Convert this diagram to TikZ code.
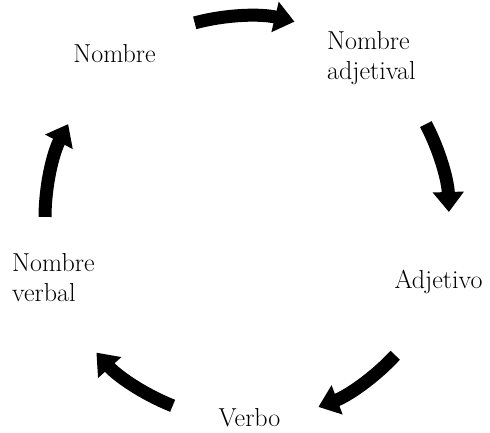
\documentclass[tikz,border=0pt]{standalone}
\usetikzlibrary{arrows.meta,calc}
\begin{document}
\begin{tikzpicture}[x=1pt,y=1pt,
  lbl/.style={inner sep=0pt, font=\fontsize{26}{30.5}\selectfont},
  cyc/.style={line width=13pt, -{Triangle[width=30pt,length=20pt]}}]
\useasboundingbox (0,0) rectangle (490,433);
\fill[white] (0,0) rectangle (490,433);
\coordinate (O) at (247,215);
% labels
\node[lbl, anchor=base] (n) at (114.5,370) {Nombre};
\node[lbl, anchor=base west, align=left] (na) at (327,353) {Nombre\\adjetival};
\node[lbl, anchor=base] (a) at (438.5,144) {Adjetivo};
\node[lbl, anchor=base] (v) at (249.5,6) {Verbo};
\node[lbl, anchor=base west, align=left] (nv) at (12,131) {Nombre\\verbal};
% arc start points
\coordinate (s1) at ($(O)+(105:202)$);
\coordinate (s2) at ($(O)+(27.7:202)$);
\coordinate (s3) at ($(O)+(-42.8:202)$);
\coordinate (s4) at ($(O)+(-111.6:202)$);
\coordinate (s5) at ($(O)+(179.7:202)$);
\draw[cyc] (s1) arc[start angle=105, end angle=76.4, radius=202];
\draw[cyc] (s2) arc[start angle=27.7, end angle=1.7, radius=202];
\draw[cyc] (s3) arc[start angle=-42.8, end angle=-69.3, radius=202];
\draw[cyc] (s4) arc[start angle=-111.6, end angle=-138.2, radius=202];
\draw[cyc] (s5) arc[start angle=179.7, end angle=152.3, radius=202];
\end{tikzpicture}
\end{document}
